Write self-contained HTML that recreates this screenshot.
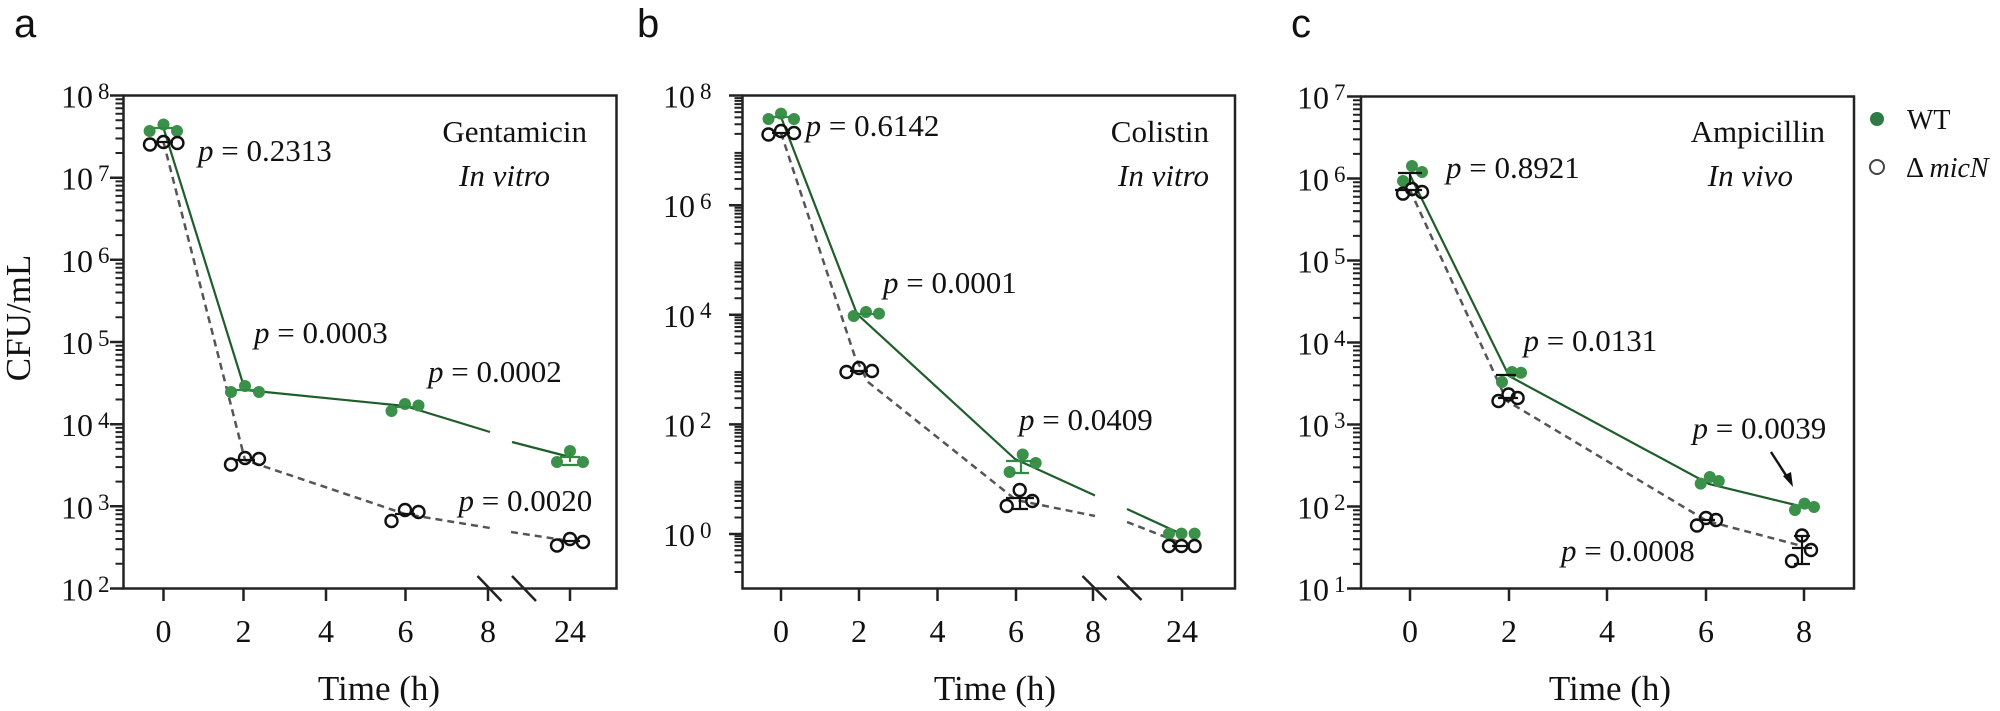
<!DOCTYPE html>
<html><head><meta charset="utf-8"><style>
html,body{margin:0;padding:0;background:#fff;}
svg{display:block;}
text{font-family:"Liberation Serif",serif;fill:#111;}
.pl{font-family:"Liberation Sans",sans-serif;font-size:40px;}
.tk{font-size:32px;}
.sp{font-size:23px;}
.pv{font-size:31px;}
.it{font-style:italic;}
.ax{fill:none;stroke:#222;stroke-width:2.5;}
.wl{fill:none;stroke:#1f5e2b;stroke-width:2.2;}
.ml{fill:none;stroke:#555;stroke-width:2.5;stroke-dasharray:7,5;}
.g{fill:#3b9149;}
.o{fill:#fff;fill-opacity:0;stroke:#111;stroke-width:2.4;}
.eb{stroke:#111;stroke-width:2.2;fill:none;}
.ebg{stroke:#2f8a42;stroke-width:2.2;fill:none;}
</style></head><body>
<svg width="2000" height="711" viewBox="0 0 2000 711" xmlns="http://www.w3.org/2000/svg">
<defs>
<g id="dec" stroke="#222" stroke-width="2">
<path vector-effect="non-scaling-stroke" d="M-8,-30.1H0M-8,-47.7H0M-8,-60.2H0M-8,-69.9H0M-8,-77.8H0M-8,-84.5H0M-8,-90.3H0M-8,-95.4H0"/>
</g>
</defs>

<text class="pl" x="14" y="37">a</text>
<text class="pl" x="637" y="37">b</text>
<text class="pl" x="1291" y="37">c</text>

<!-- ============ PANEL A ============ -->
<rect class="ax" x="123.5" y="95.5" width="493" height="493"/>
<g>
<use href="#dec" transform="translate(123.5,588.5) scale(1,0.8217)"/>
<use href="#dec" transform="translate(123.5,506.3) scale(1,0.8217)"/>
<use href="#dec" transform="translate(123.5,424.2) scale(1,0.8217)"/>
<use href="#dec" transform="translate(123.5,342) scale(1,0.8217)"/>
<use href="#dec" transform="translate(123.5,259.8) scale(1,0.8217)"/>
<use href="#dec" transform="translate(123.5,177.7) scale(1,0.8217)"/>
</g>
<path class="ax" d="M110,588.5H123.5M110,506.3H123.5M110,424.2H123.5M110,342H123.5M110,259.8H123.5M110,177.7H123.5M110,95.5H123.5"/>
<path class="ax" d="M163.5,588.5V601M243.5,588.5V601M326,588.5V601M405.5,588.5V601M488,588.5V601M570,588.5V601"/>
<path class="ax" d="M477.5,576L501.5,601M512,576L536,601"/>
<g text-anchor="end">
<text class="tk" x="93" y="600.5">10</text><text class="tk" x="93" y="518.3">10</text><text class="tk" x="93" y="436.2">10</text><text class="tk" x="93" y="354">10</text><text class="tk" x="93" y="271.8">10</text><text class="tk" x="93" y="189.7">10</text><text class="tk" x="93" y="107.5">10</text>
</g>
<g>
<text class="sp" x="98" y="592">2</text><text class="sp" x="98" y="510">3</text><text class="sp" x="98" y="428">4</text><text class="sp" x="98" y="346">5</text><text class="sp" x="98" y="263">6</text><text class="sp" x="98" y="181">7</text><text class="sp" x="98" y="99">8</text>
</g>
<g text-anchor="middle">
<text class="tk" x="163.5" y="642">0</text><text class="tk" x="243.5" y="642">2</text><text class="tk" x="326" y="642">4</text><text class="tk" x="405.5" y="642">6</text><text class="tk" x="488" y="642">8</text><text class="tk" x="570" y="642">24</text>
<text x="379" y="700" font-size="35">Time (h)</text>
</g>
<text font-size="35" text-anchor="middle" transform="translate(30,318) rotate(-90)">CFU/mL</text>

<polyline class="wl" points="163.5,128 245,390 405,406 490,432"/>
<polyline class="wl" points="512,442 570,457"/>
<polyline class="ml" points="163.5,142 245,460 405,514 490,528"/>
<polyline class="ml" points="511,532 570,541"/>
<g class="g">
<circle cx="149.6" cy="131" r="6"/><circle cx="163.5" cy="124.5" r="6"/><circle cx="177" cy="131" r="6"/>
<circle cx="231" cy="392" r="6"/><circle cx="245" cy="386" r="6"/><circle cx="259" cy="392" r="6"/>
<circle cx="391.5" cy="411" r="6"/><circle cx="405" cy="404" r="6"/><circle cx="418.5" cy="405.5" r="6"/>
<circle cx="557" cy="462" r="6"/><circle cx="570" cy="451" r="6"/><circle cx="583" cy="462" r="6"/>
</g>
<path class="ebg" d="M154,128H173M235,390H255M395,407H415M560,457H580M570,452V462M562,465H578"/>
<path class="eb" d="M154,142H173M235,460H255M395,514H415M560,541H580"/>
<g class="o">
<circle cx="150" cy="144.5" r="6"/><circle cx="163.5" cy="142" r="6"/><circle cx="177.4" cy="143" r="6"/>
<circle cx="231" cy="464.5" r="6"/><circle cx="245" cy="458" r="6"/><circle cx="259" cy="459" r="6"/>
<circle cx="391.5" cy="521" r="6"/><circle cx="405" cy="510" r="6"/><circle cx="418.5" cy="512" r="6"/>
<circle cx="557" cy="545.5" r="6"/><circle cx="570" cy="539" r="6"/><circle cx="583" cy="542" r="6"/>
</g>
<text class="pv" x="198" y="161"><tspan class="it">p</tspan> = 0.2313</text>
<text class="pv" x="254" y="343"><tspan class="it">p</tspan> = 0.0003</text>
<text class="pv" x="428" y="382"><tspan class="it">p</tspan> = 0.0002</text>
<text class="pv" x="458.5" y="511"><tspan class="it">p</tspan> = 0.0020</text>
<text class="pv" x="587" y="142" text-anchor="end">Gentamicin</text>
<text class="pv it" x="550" y="186" text-anchor="end">In vitro</text>

<!-- ============ PANEL B ============ -->
<rect class="ax" x="742.5" y="95.5" width="492.5" height="493"/>
<g>
<use href="#dec" transform="translate(742.5,588.5) scale(1,0.548)"/>
<use href="#dec" transform="translate(742.5,534) scale(1,0.548)"/>
<use href="#dec" transform="translate(742.5,479.2) scale(1,0.548)"/>
<use href="#dec" transform="translate(742.5,424.4) scale(1,0.548)"/>
<use href="#dec" transform="translate(742.5,369.6) scale(1,0.548)"/>
<use href="#dec" transform="translate(742.5,314.8) scale(1,0.548)"/>
<use href="#dec" transform="translate(742.5,260) scale(1,0.548)"/>
<use href="#dec" transform="translate(742.5,205.2) scale(1,0.548)"/>
<use href="#dec" transform="translate(742.5,150.4) scale(1,0.548)"/>
</g>
<path class="ax" d="M729,534H742.5M729,424.4H742.5M729,314.8H742.5M729,205.2H742.5M729,95.5H742.5"/>
<path class="ax" d="M781,588.5V601M859,588.5V601M937.5,588.5V601M1016,588.5V601M1093,588.5V601M1182,588.5V601"/>
<path class="ax" d="M1082.5,576L1106.5,600M1117.5,576L1141.5,600"/>
<g text-anchor="end">
<text class="tk" x="695" y="546">10</text><text class="tk" x="695" y="436.4">10</text><text class="tk" x="695" y="326.8">10</text><text class="tk" x="695" y="217.2">10</text><text class="tk" x="695" y="107.5">10</text>
</g>
<g>
<text class="sp" x="700" y="538">0</text><text class="sp" x="700" y="428">2</text><text class="sp" x="700" y="318">4</text><text class="sp" x="700" y="209">6</text><text class="sp" x="700" y="99">8</text>
</g>
<g text-anchor="middle">
<text class="tk" x="781" y="642">0</text><text class="tk" x="859" y="642">2</text><text class="tk" x="937.5" y="642">4</text><text class="tk" x="1016" y="642">6</text><text class="tk" x="1093" y="642">8</text><text class="tk" x="1182" y="642">24</text>
<text x="995" y="700" font-size="35">Time (h)</text>
</g>
<polyline class="wl" points="781,117 857,314 1015,459 1095,495.5"/>
<polyline class="wl" points="1127,509 1177,532"/>
<polyline class="ml" points="781,133 855,357 868,382 1016,500 1095,516"/>
<polyline class="ml" points="1127,522 1181,543"/>
<g class="g">
<circle cx="768.5" cy="119" r="6"/><circle cx="781" cy="113.6" r="6"/><circle cx="794" cy="119" r="6"/>
<circle cx="853.7" cy="316" r="6"/><circle cx="866" cy="312" r="6"/><circle cx="879" cy="313.6" r="6"/>
<circle cx="1009.6" cy="472" r="6"/><circle cx="1022.7" cy="454.5" r="6"/><circle cx="1035.7" cy="463" r="6"/>
<circle cx="1169" cy="533.6" r="6"/><circle cx="1181.5" cy="533.6" r="6"/><circle cx="1194.6" cy="533.6" r="6"/>
</g>
<path class="ebg" d="M772,117H790M857,314H875M1006,461H1036M1021,461V473M1013,473H1029"/>
<path class="eb" d="M772,133H790M850,371H868M1006,498H1034M1020,498V509M1012,509H1028M1172,546H1190"/>
<g class="o">
<circle cx="768.5" cy="134.5" r="6"/><circle cx="781" cy="131" r="6"/><circle cx="794" cy="133" r="6"/>
<circle cx="846.5" cy="372" r="6"/><circle cx="859" cy="368" r="6"/><circle cx="872" cy="371" r="6"/>
<circle cx="1006.7" cy="506" r="6"/><circle cx="1019.7" cy="490" r="6"/><circle cx="1032.3" cy="501" r="6"/>
<circle cx="1169" cy="546" r="6"/><circle cx="1181.5" cy="546" r="6"/><circle cx="1194.6" cy="546" r="6"/>
</g>
<text class="pv" x="805.6" y="136"><tspan class="it">p</tspan> = 0.6142</text>
<text class="pv" x="883" y="293"><tspan class="it">p</tspan> = 0.0001</text>
<text class="pv" x="1019" y="430"><tspan class="it">p</tspan> = 0.0409</text>
<text class="pv" x="1209" y="142" text-anchor="end">Colistin</text>
<text class="pv it" x="1209" y="186" text-anchor="end">In vitro</text>

<!-- ============ PANEL C ============ -->
<rect class="ax" x="1361" y="96.5" width="493" height="492"/>
<g>
<use href="#dec" transform="translate(1361,588.5) scale(1,0.82)"/>
<use href="#dec" transform="translate(1361,506.5) scale(1,0.82)"/>
<use href="#dec" transform="translate(1361,424.5) scale(1,0.82)"/>
<use href="#dec" transform="translate(1361,342.5) scale(1,0.82)"/>
<use href="#dec" transform="translate(1361,260.5) scale(1,0.82)"/>
<use href="#dec" transform="translate(1361,178.5) scale(1,0.82)"/>
</g>
<path class="ax" d="M1347,588.5H1361M1347,506.5H1361M1347,424.5H1361M1347,342.5H1361M1347,260.5H1361M1347,178.5H1361M1347,96.5H1361"/>
<path class="ax" d="M1410,588.5V601M1509,588.5V601M1607,588.5V601M1706,588.5V601M1804,588.5V601"/>
<g text-anchor="end">
<text class="tk" x="1329" y="600.5">10</text><text class="tk" x="1329" y="518.5">10</text><text class="tk" x="1329" y="436.5">10</text><text class="tk" x="1329" y="354.5">10</text><text class="tk" x="1329" y="272.5">10</text><text class="tk" x="1329" y="190.5">10</text><text class="tk" x="1329" y="108.5">10</text>
</g>
<g>
<text class="sp" x="1334" y="592">1</text><text class="sp" x="1334" y="510">2</text><text class="sp" x="1334" y="428">3</text><text class="sp" x="1334" y="346">4</text><text class="sp" x="1334" y="264">5</text><text class="sp" x="1334" y="182">6</text><text class="sp" x="1334" y="100">7</text>
</g>
<g text-anchor="middle">
<text class="tk" x="1410" y="642">0</text><text class="tk" x="1509" y="642">2</text><text class="tk" x="1607" y="642">4</text><text class="tk" x="1706" y="642">6</text><text class="tk" x="1804" y="642">8</text>
<text x="1610" y="700" font-size="35">Time (h)</text>
</g>
<polyline class="wl" points="1410,175 1509,376 1709,484 1804,507"/>
<polyline class="ml" points="1410,190 1507,401 1707,521 1802,546"/>
<g class="g">
<circle cx="1403" cy="181" r="6"/><circle cx="1412" cy="166" r="6"/><circle cx="1422" cy="172" r="6"/>
<circle cx="1502" cy="382" r="6"/><circle cx="1512" cy="372" r="6"/><circle cx="1521" cy="372.7" r="6"/>
<circle cx="1700.7" cy="483.6" r="6"/><circle cx="1709.8" cy="477" r="6"/><circle cx="1718.8" cy="481" r="6"/>
<circle cx="1795" cy="510" r="6"/><circle cx="1804.5" cy="503.6" r="6"/><circle cx="1814" cy="507" r="6"/>
</g>
<path class="eb" d="M1398,173H1422M1410,173V185M1496,375H1516M1395,190H1422M1498,398H1518M1697,520H1715M1792,548H1812M1802,536V564M1794,536H1810M1794,564H1810"/>
<g class="o">
<circle cx="1403" cy="193.6" r="6"/><circle cx="1412" cy="189" r="6"/><circle cx="1422" cy="192" r="6"/>
<circle cx="1498.5" cy="401" r="6"/><circle cx="1508.5" cy="394.5" r="6"/><circle cx="1517.6" cy="398" r="6"/>
<circle cx="1697" cy="525.5" r="6"/><circle cx="1706" cy="518" r="6"/><circle cx="1716" cy="520" r="6"/>
<circle cx="1792" cy="561" r="6"/><circle cx="1802" cy="535.5" r="6"/><circle cx="1811" cy="550" r="6"/>
</g>
<path d="M1771,452L1789,480" stroke="#111" stroke-width="2.4" fill="none"/>
<path d="M1793,487L1783,476L1791,472Z" fill="#111"/>
<text class="pv" x="1446" y="178"><tspan class="it">p</tspan> = 0.8921</text>
<text class="pv" x="1523.5" y="351"><tspan class="it">p</tspan> = 0.0131</text>
<text class="pv" x="1692.5" y="438.6"><tspan class="it">p</tspan> = 0.0039</text>
<text class="pv" x="1561" y="561"><tspan class="it">p</tspan> = 0.0008</text>
<text class="pv" x="1825" y="142" text-anchor="end">Ampicillin</text>
<text class="pv it" x="1793" y="186" text-anchor="end">In vivo</text>

<circle cx="1877" cy="119" r="7" fill="#2f7a45"/>
<text x="1907" y="129" font-size="28">WT</text>
<circle cx="1877" cy="167" r="7" fill="none" stroke="#444" stroke-width="2"/>
<text x="1906" y="177" font-size="28">Δ <tspan class="it">micN</tspan></text>
</svg>
</body></html>
